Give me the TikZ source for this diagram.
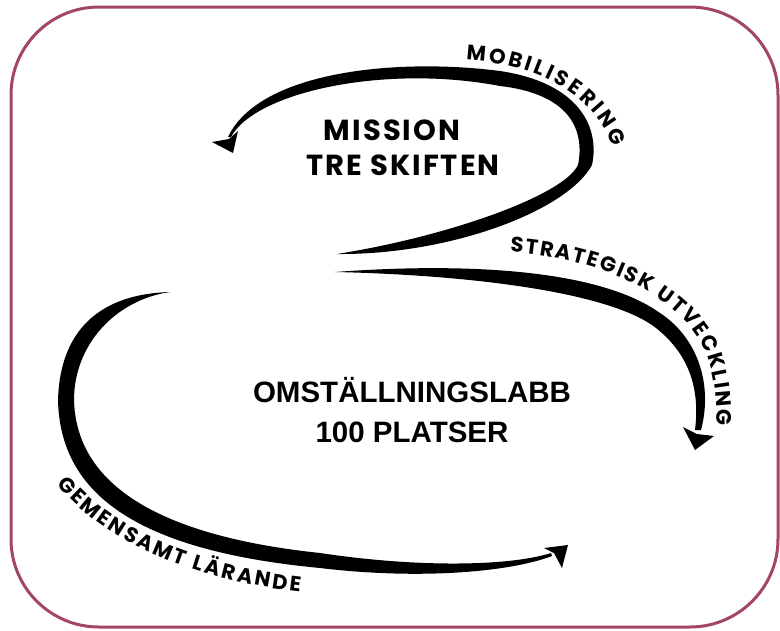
\documentclass[tikz,border=0pt]{standalone}
\usepackage{fontspec}
\setmainfont{Liberation Sans}
\newfontfamily\geofont{Poppins}
\newfontfamily\geowide{Poppins}[LetterSpace=7]
\usetikzlibrary{decorations.text}
\definecolor{ramrosa}{RGB}{163,68,106}

\newcommand\kurvtext{\geofont\bfseries\fontsize{21}{21}\selectfont}
\newcommand\mittext{\geowide\bfseries\fontsize{29}{29}\selectfont}
\newcommand\labbtext{\bfseries\fontsize{29.5}{29.5}\selectfont}

\begin{document}
\begin{tikzpicture}
  [x=1pt,y=-1pt,every node/.style={inner sep=0pt,text=black}]
  \tikzstyle{ram} = [draw=ramrosa,line width=3pt,rounded corners=88pt]
  \tikzstyle{pil} = [fill=black]
  \tikzstyle{etikett} = [decorate,decoration={text along path,text align={fit to path}}]

  \useasboundingbox (0,0) rectangle (780,630);
  \draw[ram] (11,7) rectangle (778,627);

  % mobilisering, upp och runt
  \fill[pil] (337,254) .. controls (450,255) and (567,211) .. (592,165)
    .. controls (600,128) and (580,83) .. (500,71)
    .. controls (400,58) and (260,70) .. (228,137)
    -- (231,137)
    .. controls (255,92) and (385,64) .. (500,86)
    .. controls (570,94) and (585,130) .. (578,165)
    .. controls (564,195) and (450,236) .. (337,254) -- cycle;

  % strategisk utveckling
  \fill[pil] (335,272) .. controls (470,262) and (600,270) .. (660,313)
    .. controls (698,338) and (713,385) .. (701,430)
    -- (695,430)
    .. controls (700,390) and (690,355) .. (656,328)
    .. controls (610,292) and (470,275) .. (335,272) -- cycle;

  % gemensamt larande
  \fill[pil] (170,292) .. controls (100,294) and (60,330) .. (58,400)
    .. controls (60,490) and (130,550) .. (320,568)
    .. controls (420,580) and (510,572) .. (552,556)
    -- (551,553)
    .. controls (510,566) and (420,568) .. (320,553)
    .. controls (150,535) and (76,480) .. (74,400)
    .. controls (74,345) and (115,300) .. (170,292) -- cycle;

  % pilspetsar
  \coordinate (mobS) at (233,153);
  \coordinate (mobV) at (212,142);
  \coordinate (mobK) at (229,139);
  \coordinate (mobH) at (238,131);
  \coordinate (strS) at (695,450);
  \coordinate (strV) at (683,427);
  \coordinate (strK) at (697,434);
  \coordinate (strH) at (714,436);
  \coordinate (gemS) at (568,545);
  \coordinate (gemV) at (544,548);
  \coordinate (gemK) at (554,553);
  \coordinate (gemH) at (562,568);

  \foreach \s/\v/\k/\h in {mobS/mobV/mobK/mobH,strS/strV/strK/strH,gemS/gemV/gemK/gemH}
    \fill[pil] (\s) -- (\v) -- (\k) -- (\h) -- cycle;

  \path[etikett,decoration={text={|\kurvtext|MOBILISERING}}]
    (466,60) .. controls (535,64) and (592,92) .. (613,147);
  \path[etikett,decoration={text={|\kurvtext|STRATEGISK UTVECKLING}}]
    (510,252) .. controls (610,259) and (682,300) .. (705,350)
    .. controls (715,375) and (717,400) .. (717,425);
  \path[etikett,decoration={text={|\kurvtext|GEMENSAMT LÄRANDE}}]
    (57,484) .. controls (98,535) and (180,578) .. (300,592);

  \node[anchor=base] (mission) at (392,140) {\mittext MISSION};
  \node[anchor=base] (treskiften) at (403,175) {\mittext TRE SKIFTEN};
  \node[anchor=base] (labb) at (412,402) {\labbtext OMSTÄLLNINGSLABB};
  \node[anchor=base] (platser) at (412,442) {\labbtext 100 PLATSER};

\end{tikzpicture}
\end{document}
